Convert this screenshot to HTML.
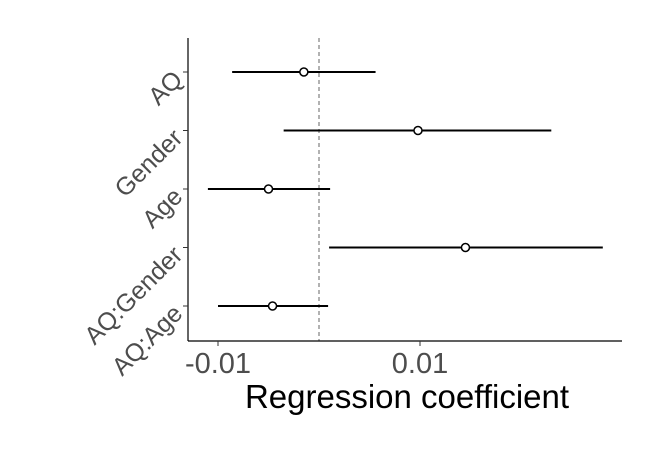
<!DOCTYPE html>
<html><head><meta charset="utf-8"><style>
html,body{margin:0;padding:0;background:#fff;}
svg{display:block;font-family:"Liberation Sans",Arial,sans-serif;}
</style></head><body>
<svg id="chart" width="661" height="454">
<rect width="661" height="454" fill="#fff"/>
<g id="plot"></g>
</svg>
<script>
const terms = ["AQ","Gender","Age","AQ:Gender","AQ:Age"];
const estimates = [-0.0015, 0.0098, -0.0050, 0.0145, -0.0046];
const lowers = [-0.0086, -0.0035, -0.0110, 0.0010, -0.0100];
const uppers = [0.0056, 0.0230, 0.0011, 0.0281, 0.0009];
const xTicks = [-0.01, 0.01];
const xTickLabels = ["-0.01","0.01"];

const ns="http://www.w3.org/2000/svg";
const g=document.getElementById('plot');
function x(v){return 319+v*10100;}
function y(i){return 72+i*58.5;}
function mk(t,a){const e=document.createElementNS(ns,t);for(const k in a)e.setAttribute(k,a[k]);g.appendChild(e);return e;}

let e;
e=mk('line',{x1:x(0),x2:x(0),y1:38,y2:341,stroke:'#666','stroke-width':1,'stroke-dasharray':'4,3'});


e=mk('line',{x1:188,x2:188,y1:38,y2:341,stroke:'#000','stroke-width':1.2});


e=mk('line',{x1:188,x2:622,y1:341,y2:341,stroke:'#000','stroke-width':1.2});



xTicks.forEach((v,i)=>{
  e=mk('line',{x1:x(v),x2:x(v),y1:341,y2:346,stroke:'#333'});
  
  
  e=mk('text',{x:x(v),y:373,'text-anchor':'middle','font-size':29,fill:'#4d4d4d'});
  e.textContent=xTickLabels[i];
  
  
});

terms.forEach((t,i)=>{
  const yy=y(i);
  e=mk('line',{x1:183,x2:188,y1:yy,y2:yy,stroke:'#333'});
  
  
  e=mk('text',{x:0,y:0,'text-anchor':'end','font-size':25,fill:'#4d4d4d',transform:`translate(184,${yy+9}) rotate(-45)`});
  e.textContent=t;
  
  
  e=mk('line',{x1:x(lowers[i]),x2:x(uppers[i]),y1:yy,y2:yy,stroke:'#000','stroke-width':2});
  
  
  e=mk('circle',{cx:x(estimates[i]),cy:yy,r:4,fill:'#fff',stroke:'#000','stroke-width':1.5});
  
  
});

e=mk('text',{x:407,y:408,'text-anchor':'middle','font-size':33,fill:'#000'});
e.textContent='Regression coefficient';


</script>
</body></html>
